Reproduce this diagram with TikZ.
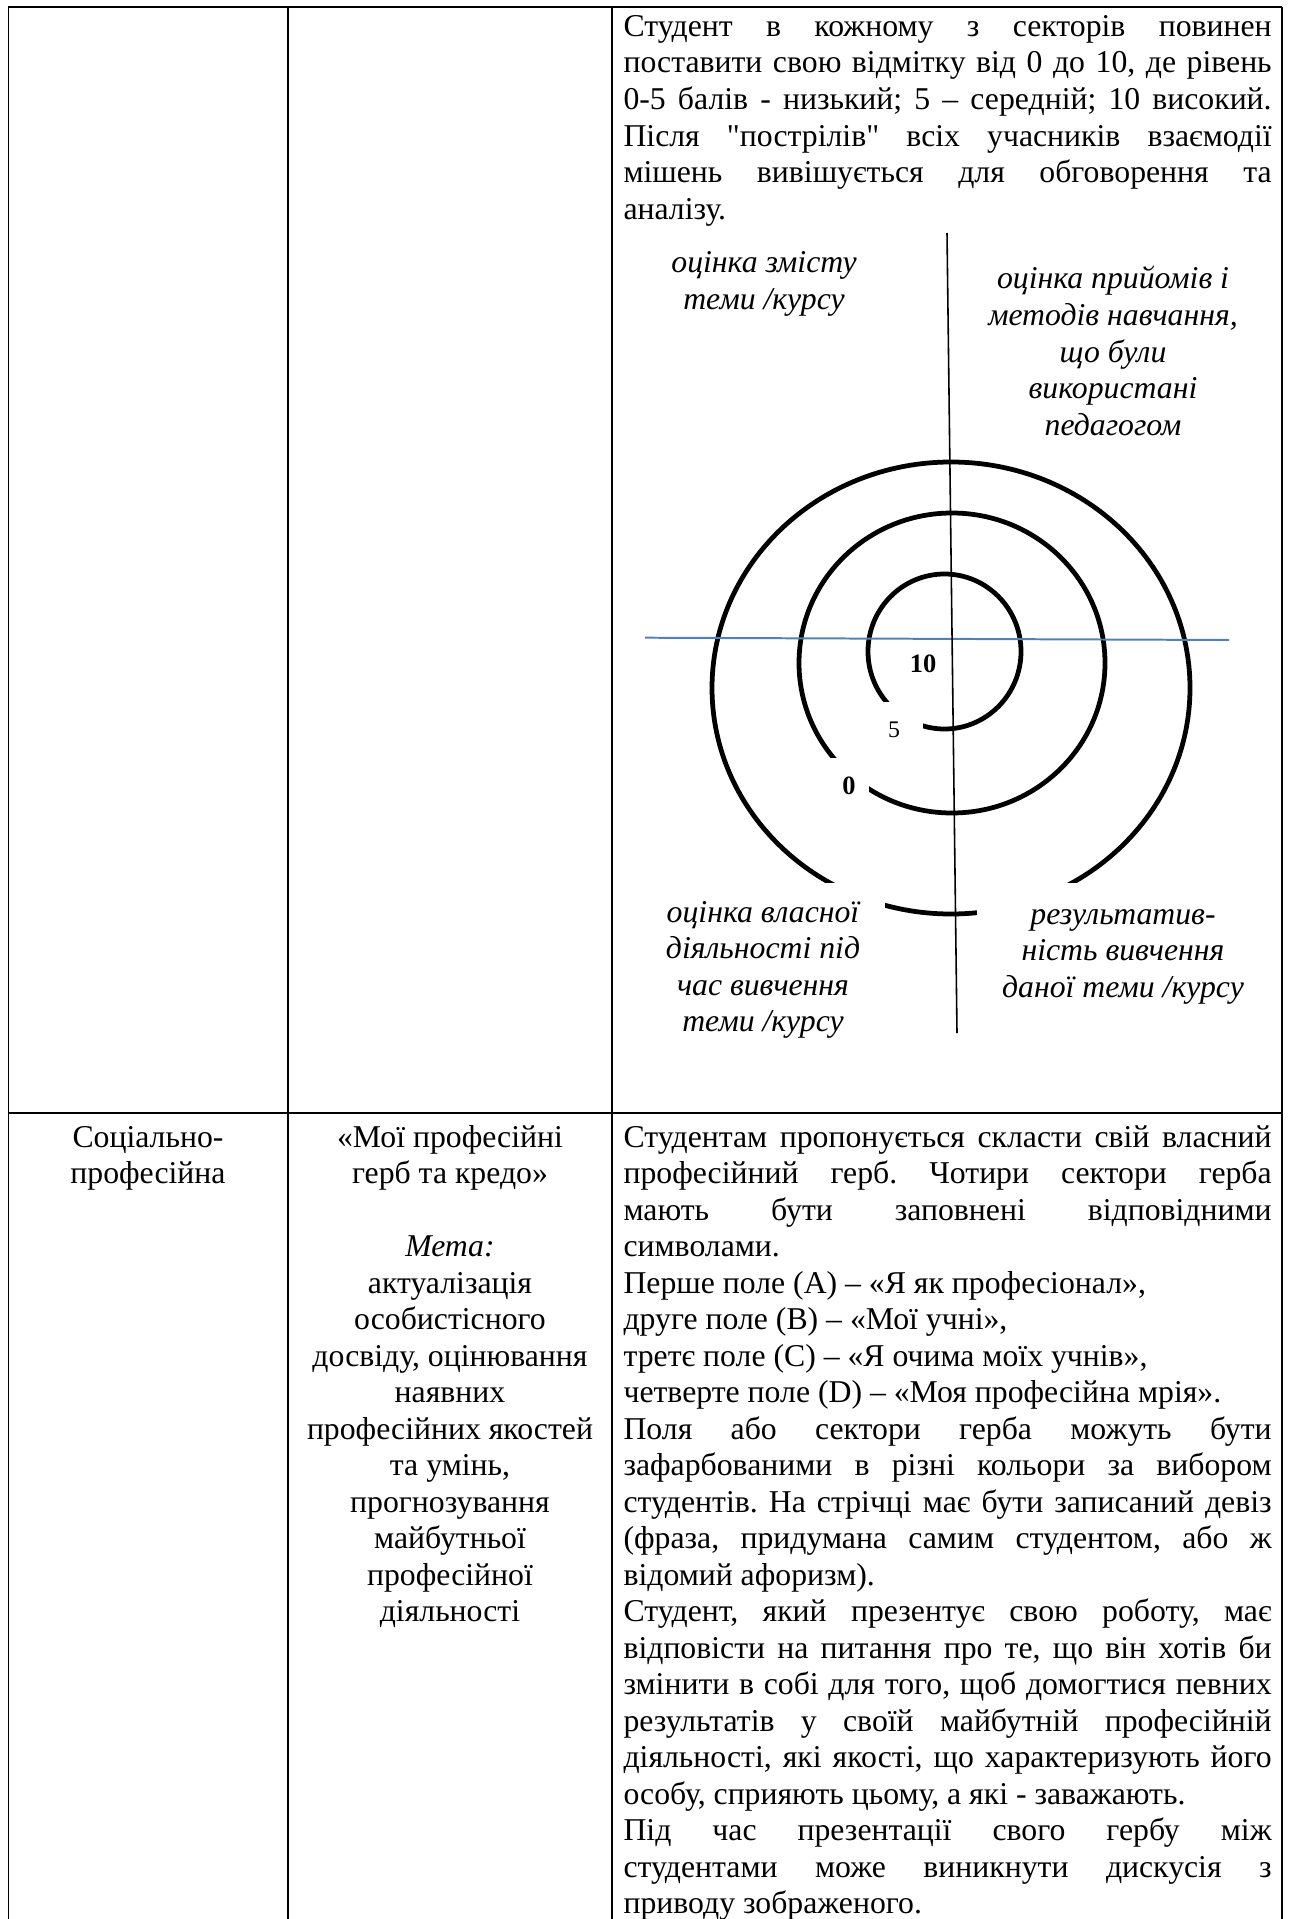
\documentclass[tikz,border=0pt]{standalone}
\usepackage{fontspec}
\setmainfont{Liberation Serif}[Ligatures=TeXOff]
\frenchspacing
\definecolor{lineblue}{RGB}{79,129,189}
% width of the text block in the wide right-hand column
\newlength\cw \setlength\cw{245pt}
% one justified line / one ragged (last) line of a paragraph
\newcommand\jrow[1]{\hbox to\cw{#1}}
\newcommand\lrow[1]{\hbox to\cw{#1\hfil}}
\begin{document}
\begin{tikzpicture}[x=0.378pt,y=-0.378pt,
  cell/.style={inner sep=0pt, font=\fontsize{12}{13.8}\selectfont},
  lab/.style={inner sep=0pt, anchor=base, font=\fontsize{12}{13.8}\selectfont\itshape},
  num/.style={inner sep=0pt, anchor=base},
  ring/.style={line width=1.8pt},
  rule/.style={line width=0.6pt},
  boldrule/.style={line width=0.9pt}]
\useasboundingbox (0,0) rectangle (1291,1919);

% ---- table rules ----
\draw[boldrule] (8.3,7.3) -- (1281.7,7.3);
\draw[boldrule] (8.3,1113) -- (1281.7,1113);
\foreach \x in {8.3,288,611.7,1281.7}
  \draw[rule] (\x,7.3) -- (\x,1919);

% ---- first row, right column ----
\node[cell, anchor=base west] (rules) at (623,36.5) {\vtop{%
  \jrow{Студент в кожному з секторів повинен}
  \jrow{поставити свою відмітку від 0 до 10, де рівень}
  \jrow{0-5 балів - низький; 5 – середній; 10 високий.}
  \jrow{Після "пострілів" всіх учасників взаємодії}
  \jrow{мішень вивішується для обговорення та}
  \lrow{аналізу.}}};

% ---- target: three rings ----
\draw[ring] (944.5,651.5) ellipse [x radius=76.5, y radius=77.5];
\draw[ring] (952,663) ellipse [x radius=153, y radius=150];
\draw[ring] (951,688) ellipse [x radius=239, y radius=226];

% white backgrounds of the label boxes lying over the rings
\fill[white] (865,702) rectangle (923,760);
\fill[white] (815,758) rectangle (869,815);
\fill[white] (641,883) rectangle (885,1045);
\fill[white] (977,883) rectangle (1270,1045);

% axes of the target
\coordinate (hL) at (645,637.7);
\coordinate (hR) at (1229,640);
\coordinate (vT) at (947,233);
\coordinate (vB) at (957,1033);
\draw[lineblue, line width=0.75pt] (hL) -- (hR);
\draw[line width=0.6pt] (vT) -- (vB);

% score marks
\node[num, font=\fontsize{10}{12}\selectfont\bfseries] (ten) at (923,672) {10};
\node[num, font=\fontsize{9}{11}\selectfont] (five) at (894,737) {5};
\node[num, font=\fontsize{10}{12}\selectfont\bfseries] (zero) at (849,794) {0};

% sector captions
\node[lab] (capA) at (764,273) {\begin{tabular}[t]{@{}c@{}}оцінка змісту\\теми /курсу\end{tabular}};
\node[lab] (capB) at (1113,289) {\begin{tabular}[t]{@{}c@{}}оцінка прийомів і\\методів навчання,\\що були\\використані\\педагогом\end{tabular}};
\node[lab] (capC) at (763,922) {\begin{tabular}[t]{@{}c@{}}оцінка власної\\діяльності під\\час вивчення\\теми /курсу\end{tabular}};
\node[lab] (capD) at (1123,924) {\begin{tabular}[t]{@{}c@{}}результатив-\\ність вивчення\\даної теми /курсу\end{tabular}};

% ---- second row ----
\node[cell, anchor=base] (field) at (148,1147)
  {\begin{tabular}[t]{@{}c@{}}Соціально-\\професійна\end{tabular}};
\node[cell, anchor=base] (method) at (450,1147)
  {\begin{tabular}[t]{@{}c@{}}«Мої професійні\\герб та кредо»\\ \\\textit{Мета:}\\актуалізація\\особистісного\\досвіду, оцінювання\\наявних\\професійних якостей\\та умінь,\\прогнозування\\майбутньої\\професійної\\діяльності\end{tabular}};
\node[cell, anchor=base west] (task) at (623,1147) {\vtop{%
  \jrow{Студентам пропонується скласти свій власний}
  \jrow{професійний герб. Чотири сектори герба}
  \jrow{мають бути заповнені відповідними}
  \lrow{символами.}
  \lrow{Перше поле (A) – «Я як професіонал»,}
  \lrow{друге поле (B) – «Мої учні»,}
  \lrow{третє поле (C) – «Я очима моїх учнів»,}
  \lrow{четверте поле (D) – «Моя професійна мрія».}
  \jrow{Поля або сектори герба можуть бути}
  \jrow{зафарбованими в різні кольори за вибором}
  \jrow{студентів. На стрічці має бути записаний девіз}
  \jrow{(фраза, придумана самим студентом, або ж}
  \lrow{відомий афоризм).}
  \jrow{Студент, який презентує свою роботу, має}
  \jrow{відповісти на питання про те, що він хотів би}
  \jrow{змінити в собі для того, щоб домогтися певних}
  \jrow{результатів у своїй майбутній професійній}
  \jrow{діяльності, які якості, що характеризують його}
  \lrow{особу, сприяють цьому, а які - заважають.}
  \jrow{Під час презентації свого гербу між}
  \jrow{студентами може виникнути дискусія з}
  \lrow{приводу зображеного.}}};
\end{tikzpicture}
\end{document}
